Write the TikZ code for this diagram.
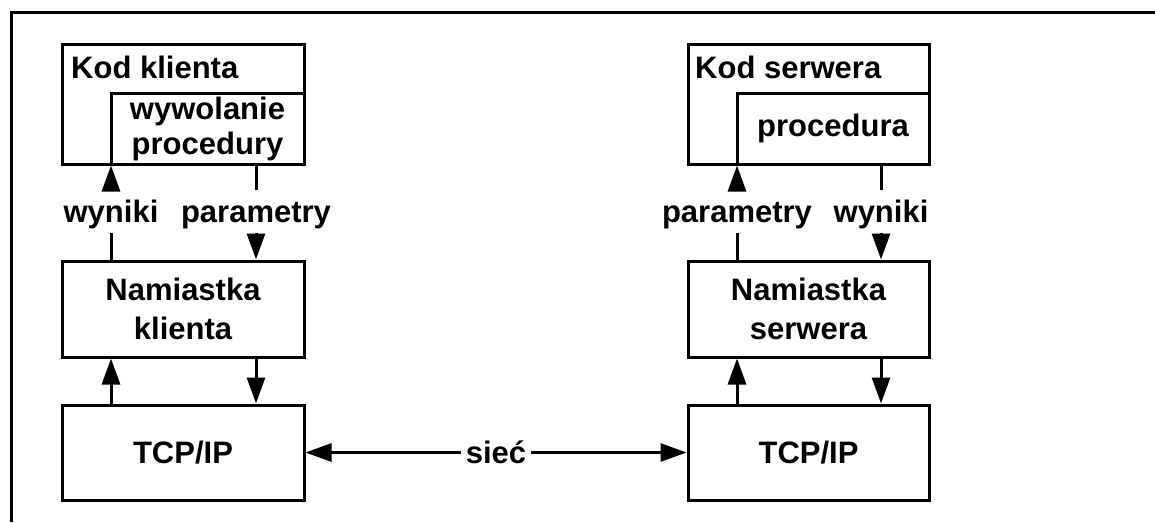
\documentclass[tikz,border=0pt]{standalone}
\usepackage{fontspec}
\setmainfont{Liberation Sans}
\usetikzlibrary{arrows.meta}
\begin{document}
\begin{tikzpicture}[x=1pt,y=-1pt,
  every node/.style={font=\bfseries\fontsize{31}{35}\selectfont},
  box/.style={draw, line width=3pt, inner sep=0pt, align=center},
  lab/.style={anchor=base, text height=28pt, text depth=7pt, inner ysep=4pt, inner xsep=0pt},
  conn/.style={line width=3pt},
  arr/.style={line width=3pt, -{Triangle[length=26pt,width=18pt]}},
  dbl/.style={line width=3pt, {Triangle[length=26pt,width=18pt]}-{Triangle[length=26pt,width=18pt]}}
]
\useasboundingbox (0,0) rectangle (1155,522);
\draw[line width=3pt] (11,522) -- (11,12) -- (1155,12);

% client side
\node[box, minimum width=242pt, minimum height=120pt] (kodL) at (183,104) {};
\node[anchor=base west, inner sep=0pt] (kodLt) at (71,78) {Kod klienta};
\node[box, minimum width=193pt, minimum height=71pt] (inL) at (207.5,128.5) {wywolanie\\procedury};
\node[box, minimum width=242pt, minimum height=96pt, font=\bfseries\fontsize{31}{39}\selectfont] (stubL) at (183,309) {Namiastka\\klienta};
\node[box, minimum width=242pt, minimum height=95pt] (tcpL) at (183,452.5) {TCP/IP};
\node[lab] (wL) at (111,222) {wyniki};
\node[lab] (pL) at (256,222) {parametry};

% server side
\node[box, minimum width=241pt, minimum height=120pt] (kodR) at (808.5,104) {};
\node[anchor=base west, inner sep=0pt] (kodRt) at (695,78) {Kod serwera};
\node[box, minimum width=192pt, minimum height=71pt] (inR) at (833,128.5) {procedura};
\node[box, minimum width=241pt, minimum height=96pt, font=\bfseries\fontsize{31}{39}\selectfont] (stubR) at (808.5,309) {Namiastka\\serwera};
\node[box, minimum width=241pt, minimum height=95pt] (tcpR) at (808.5,452.5) {TCP/IP};
\node[lab] (pR) at (737,222) {parametry};
\node[lab] (wR) at (881,222) {wyniki};

% client connectors
\draw[arr] (wL.north) -- (wL.north |- inL.south);
\draw[conn] (stubL.north -| wL) -- (wL.south);
\draw[conn] (pL.north |- inL.south) -- (pL.north);
\draw[arr] (pL.south) -- (stubL.north -| pL);
\draw[arr] (tcpL.north -| wL) -- (stubL.south -| wL);
\draw[arr] (stubL.south -| pL) -- (tcpL.north -| pL);

% server connectors
\draw[arr] (pR.north) -- (pR.north |- inR.south);
\draw[conn] (stubR.north -| pR) -- (pR.south);
\draw[conn] (wR.north |- inR.south) -- (wR.north);
\draw[arr] (wR.south) -- (stubR.north -| wR);
\draw[arr] (tcpR.north -| pR) -- (stubR.south -| pR);
\draw[arr] (stubR.south -| wR) -- (tcpR.north -| wR);

% network
\draw[dbl] (tcpL.east) -- node[fill=white, inner xsep=5pt, inner ysep=2pt] (siec) {sieć} (tcpR.west);
\end{tikzpicture}
\end{document}
